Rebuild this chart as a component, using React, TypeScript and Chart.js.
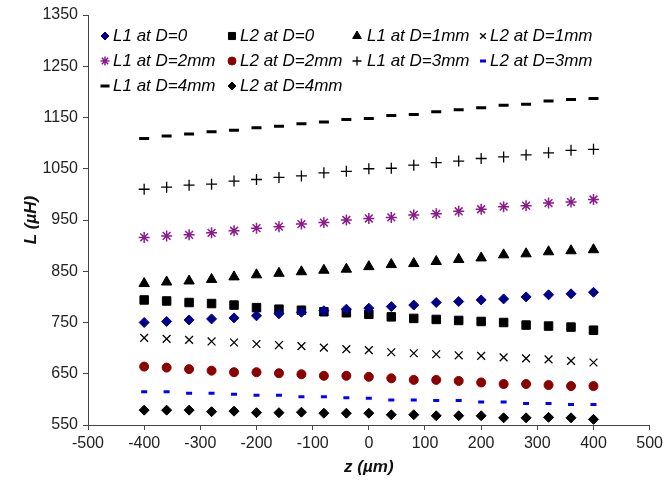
import React, { useEffect, useRef } from "react";
import { Chart, registerables } from "chart.js";
import { drawPoint } from "chart.js/helpers";

Chart.register(...registerables);

const zPositions = [-400, -360, -320, -280, -240, -200, -160, -120, -80, -40, 0, 40, 80, 120, 160, 200, 240, 280, 320, 360, 400];

const L1_D0 = [750, 752, 755, 757, 759, 763, 767, 770, 773, 776, 778, 781, 784, 789, 791, 794, 796, 800, 804, 806, 809];
const L2_D0 = [794, 792, 789, 787, 784, 779, 776, 774, 771, 769, 766, 761, 758, 756, 754, 752, 750, 745, 743, 741, 735];
const L1_D1 = [826, 829, 831, 834, 839, 843, 846, 849, 852, 854, 859, 863, 865, 869, 873, 876, 882, 884, 888, 890, 892];
const L2_D1 = [720, 718, 716, 713, 711, 708, 706, 704, 701, 698, 696, 692, 690, 688, 686, 685, 682, 680, 678, 675, 672];
const L1_D2 = [916, 919, 921, 925, 929, 934, 937, 942, 945, 950, 953, 955, 960, 962, 967, 971, 976, 978, 983, 985, 990];
const L2_D2 = [664, 662, 659, 656, 653, 653, 651, 649, 646, 646, 644, 641, 638, 638, 636, 633, 630, 630, 628, 626, 626];
const L1_D3 = [1010, 1014, 1018, 1020, 1026, 1029, 1033, 1036, 1042, 1045, 1050, 1051, 1057, 1062, 1065, 1070, 1073, 1077, 1081, 1086, 1088];
const L2_D3 = [615, 615, 612, 612, 610, 608, 608, 605, 605, 603, 602, 599, 599, 598, 598, 595, 595, 592, 592, 590, 590];
const L1_D4 = [1109, 1114, 1118, 1122, 1125, 1130, 1133, 1138, 1141, 1146, 1148, 1154, 1156, 1161, 1165, 1169, 1174, 1176, 1182, 1185, 1187];
const L2_D4 = [579, 579, 579, 576, 577, 574, 574, 575, 573, 573, 573, 570, 570, 568, 568, 568, 564, 564, 565, 564, 561];

const seriesLabels = [
  "L1 at D=0", "L2 at D=0", "L1 at D=1mm", "L2 at D=1mm",
  "L1 at D=2mm", "L2 at D=2mm", "L1 at D=3mm", "L2 at D=3mm",
  "L1 at D=4mm", "L2 at D=4mm",
];
const seriesValues = [L1_D0, L2_D0, L1_D1, L2_D1, L1_D2, L2_D2, L1_D3, L2_D3, L1_D4, L2_D4];

const xTickValues = [-500, -400, -300, -200, -100, 0, 100, 200, 300, 400, 500];
const yTickValues = [550, 650, 750, 850, 950, 1050, 1150, 1250, 1350];

const styles = [
  { pointStyle: "rectRot", radius: 5, color: "#00008b", bw: 1, lr: 4 },
  { pointStyle: "rect", radius: 6, color: "#000000", bw: 1, lr: 5 },
  { pointStyle: "triangle", radius: 6, color: "#000000", bw: 1, lr: 5 },
  { pointStyle: "crossRot", radius: 5.5, color: "#000000", bw: 1.3, lr: 4 },
  { pointStyle: "star", radius: 5.5, color: "#8b1a8b", bw: 1.5, lr: 4.5 },
  { pointStyle: "circle", radius: 4.5, color: "#8b0000", bw: 1, lr: 4 },
  { pointStyle: "cross", radius: 5.5, color: "#000000", bw: 1.3, lr: 4.5 },
  { pointStyle: "line", radius: 3, color: "#0000ff", bw: 3, lr: 3 },
  { pointStyle: "line", radius: 5, color: "#000000", bw: 3, lr: 4.5 },
  { pointStyle: "rectRot", radius: 5, color: "#000000", bw: 1, lr: 4 },
];

const FONT = "'Liberation Sans', Arial, sans-serif";

const legendPlugin = {
  id: "gridLegend",
  afterDraw(chart: any) {
    const ctx = chart.ctx;
    const markerX = [105, 232, 357, 483];
    const textX = [113, 240, 367, 490];
    const rowY = [36, 61, 86];
    ctx.save();
    seriesLabels.forEach((label, i) => {
      const col = i % 4;
      const row = Math.floor(i / 4);
      const s = styles[i];
      ctx.fillStyle = s.color;
      ctx.strokeStyle = s.color;
      ctx.lineWidth = s.bw;
      drawPoint(ctx, { pointStyle: s.pointStyle, radius: s.lr, rotation: 0, borderWidth: s.bw } as any, markerX[col], rowY[row]);
      ctx.fillStyle = "#000";
      ctx.font = `italic 17px ${FONT}`;
      ctx.textBaseline = "middle";
      ctx.textAlign = "left";
      ctx.fillText(label, textX[col], rowY[row]);
    });
    ctx.restore();
  },
};

export default function App() {
  const ref = useRef<HTMLCanvasElement>(null);
  useEffect(() => {
    if (!ref.current) return;
    const datasets = seriesLabels.map((label, i) => ({
      label,
      data: zPositions.map((z, j) => ({ x: z, y: seriesValues[i][j] })),
      pointStyle: styles[i].pointStyle as any,
      pointRadius: styles[i].radius,
      pointBackgroundColor: styles[i].color,
      pointBorderColor: styles[i].color,
      pointBorderWidth: styles[i].bw,
      showLine: false,
    }));
    const chart = new Chart(ref.current, {
      type: "scatter",
      data: { datasets },
      options: {
        animation: false,
        responsive: false,
        layout: { padding: { top: 15, right: 15, left: 0, bottom: 0 } },
        plugins: { legend: { display: false }, tooltip: { enabled: false } },
        scales: {
          x: {
            type: "linear",
            min: -500,
            max: 500,
            afterBuildTicks: (scale: any) => {
              scale.ticks = xTickValues.map((v) => ({ value: v }));
            },
            afterFit: (scale: any) => {
              scale.height = 63;
            },
            grid: { drawOnChartArea: false, drawTicks: true, tickLength: 5, color: "#444" },
            border: { display: true, color: "#444", width: 1 },
            ticks: {
              color: "#222",
              font: { family: FONT, size: 16 },
              padding: 4,
              maxRotation: 0,
              callback: (v: any) => String(v),
            },
            title: {
              display: true,
              text: "z (µm)",
              color: "#111",
              font: { family: FONT, size: 17, weight: "bold", style: "italic" },
              padding: { top: 0, bottom: 10 },
            },
          },
          y: {
            type: "linear",
            min: 550,
            max: 1350,
            afterBuildTicks: (scale: any) => {
              scale.ticks = yTickValues.map((v) => ({ value: v }));
            },
            afterFit: (scale: any) => {
              scale.width = 88;
            },
            grid: { drawOnChartArea: false, drawTicks: true, tickLength: 5, color: "#444" },
            border: { display: true, color: "#444", width: 1 },
            ticks: {
              color: "#222",
              font: { family: FONT, size: 16 },
              padding: 5,
              callback: (v: any) => String(v),
            },
            title: {
              display: true,
              text: "L (µH)",
              color: "#111",
              font: { family: FONT, size: 17, weight: "bold", style: "italic" },
              padding: { top: 21, bottom: 0 },
            },
          },
        },
      },
      plugins: [legendPlugin],
    });
    return () => chart.destroy();
  }, []);
  return (
    <div style={{ position: "absolute", left: 0, top: 0, width: 667, height: 488, background: "#fff" }}>
      <canvas ref={ref} width={667} height={488} />
    </div>
  );
}
